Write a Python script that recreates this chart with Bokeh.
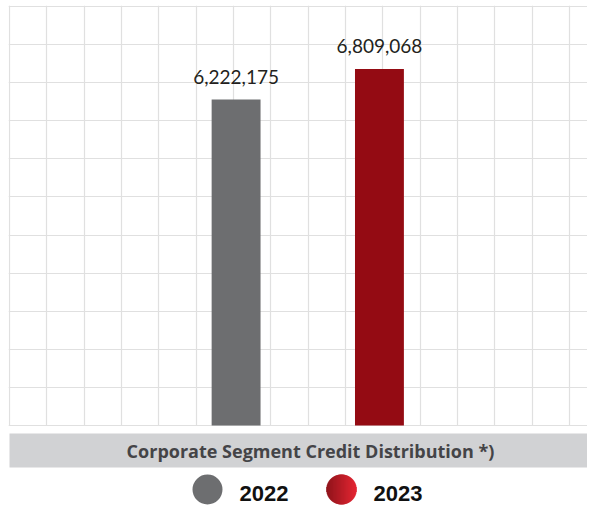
import numpy as np
from bokeh.plotting import figure
from bokeh.models import Range1d, FixedTicker, Grid, ColumnDataSource
from bokeh.layouts import column
from bokeh.embed import file_html
from bokeh.resources import INLINE
from bokeh.core.properties import value

# ---------------- data ----------------
years = ["2022", "2023"]
credit = [6222175, 6809068]
bar_colors = ["#6d6e70", "#940b13"]
chart_title = "Corporate Segment Credit Distribution *)"

# ---------------- layout / style ----------------
W = 587
TOP_PAD = 5
LEFT_PAD = 8
FRAME_H = 421
CHART_H = TOP_PAD + FRAME_H
FOOT_H = 505 - CHART_H
GRID_COLOR = "#e0e0e0"
CELL_PX = 37.33            # width of one grid cell in px
Y_MAX = 8_000_000          # value at the top grid line
N_YGRID = 11
PX_Y = Y_MAX / 419         # value per pixel
X_START = -1 / CELL_PX
X_END = X_START + (W - LEFT_PAD) / CELL_PX
GROUP_CENTER = 7.99
BAR_SPACING = 3.84
BAR_WIDTH = 1.31

xs = [GROUP_CENTER + (i - (len(years) - 1) / 2) * BAR_SPACING for i in range(len(years))]
labels = [f"{v:,}" for v in credit]

src = ColumnDataSource(dict(x=xs, top=credit, color=bar_colors, label=labels))

p = figure(width=W, height=CHART_H, x_range=Range1d(X_START, X_END),
           y_range=Range1d(-1 * PX_Y, Y_MAX + 1 * PX_Y),
           output_backend="svg", toolbar_location=None,
           x_axis_location=None, y_axis_location=None,
           min_border_left=LEFT_PAD, min_border_right=0, min_border_top=TOP_PAD, min_border_bottom=0)
p.center = []
p.add_layout(Grid(dimension=0, ticker=FixedTicker(ticks=list(range(0, 17))),
                  grid_line_color=GRID_COLOR, grid_line_width=1.2))
p.add_layout(Grid(dimension=1, ticker=FixedTicker(ticks=[Y_MAX * k / N_YGRID for k in range(N_YGRID + 1)]),
                  grid_line_color=GRID_COLOR, grid_line_width=1.2))
p.outline_line_color = None
p.background_fill_color = "white"
p.border_fill_color = "white"

p.vbar(x="x", top="top", width=BAR_WIDTH, bottom=0, fill_color="color", line_color=None, source=src)
p.text(x="x", y="top", text="label", source=src, text_align="center", text_baseline="middle",
       y_offset=-23, text_font=value("Lato"), text_font_size="19px", text_color="#231f20")

# ---------------- footer: title band + legend (data units = screen px) ----------------
f = figure(width=W, height=FOOT_H, x_range=Range1d(LEFT_PAD, W), y_range=Range1d(FOOT_H, 0),
           output_backend="svg", toolbar_location=None,
           x_axis_location=None, y_axis_location=None,
           min_border_left=LEFT_PAD, min_border_right=0, min_border_top=0, min_border_bottom=0)
f.center = []
f.outline_line_color = None
f.background_fill_color = "white"
f.border_fill_color = "white"

f.quad(left=9, right=W, top=7, bottom=41, fill_color="#d1d2d4", line_color=None)
f.text(x=[310], y=[24], text=[chart_title], text_align="center", text_baseline="middle",
       text_font=value("Open Sans"), text_font_style="bold", text_font_size="18px", text_color="#444447")

LEG_Y = 63
LEG_R = 15
leg_circle_x = [207, 341]
leg_text_x = [239, 373]

# gray marker
f.circle(x=[leg_circle_x[0]], y=[LEG_Y], radius=LEG_R, fill_color=bar_colors[0], line_color=None)

# red marker with a left-to-right gradient (dark to bright red)
c0 = np.array([0x8a, 0x0b, 0x12], dtype=float)
c1 = np.array([0xe3, 0x1e, 0x2c], dtype=float)
dxs = np.arange(-LEG_R + 0.25, LEG_R, 0.5)
seg_x, seg_y0, seg_y1, seg_c = [], [], [], []
for dx in dxs:
    h = np.sqrt(max(LEG_R ** 2 - dx ** 2, 0))
    t = (dx + LEG_R) / (2 * LEG_R)
    c = c0 + (c1 - c0) * t
    seg_x.append(leg_circle_x[1] + dx)
    seg_y0.append(LEG_Y - h)
    seg_y1.append(LEG_Y + h)
    seg_c.append("#%02x%02x%02x" % tuple(int(round(v)) for v in c))
f.segment(x0=seg_x, y0=seg_y0, x1=seg_x, y1=seg_y1, line_color=seg_c, line_width=1)

f.text(x=leg_text_x, y=[LEG_Y + 4] * 2, text=years, text_align="left", text_baseline="middle",
       text_font=value("Liberation Sans"), text_font_style="bold", text_font_size="22px",
       text_color="#111111")

layout = column(p, f, spacing=0)
open("out.html", "w").write(file_html(layout, INLINE))
